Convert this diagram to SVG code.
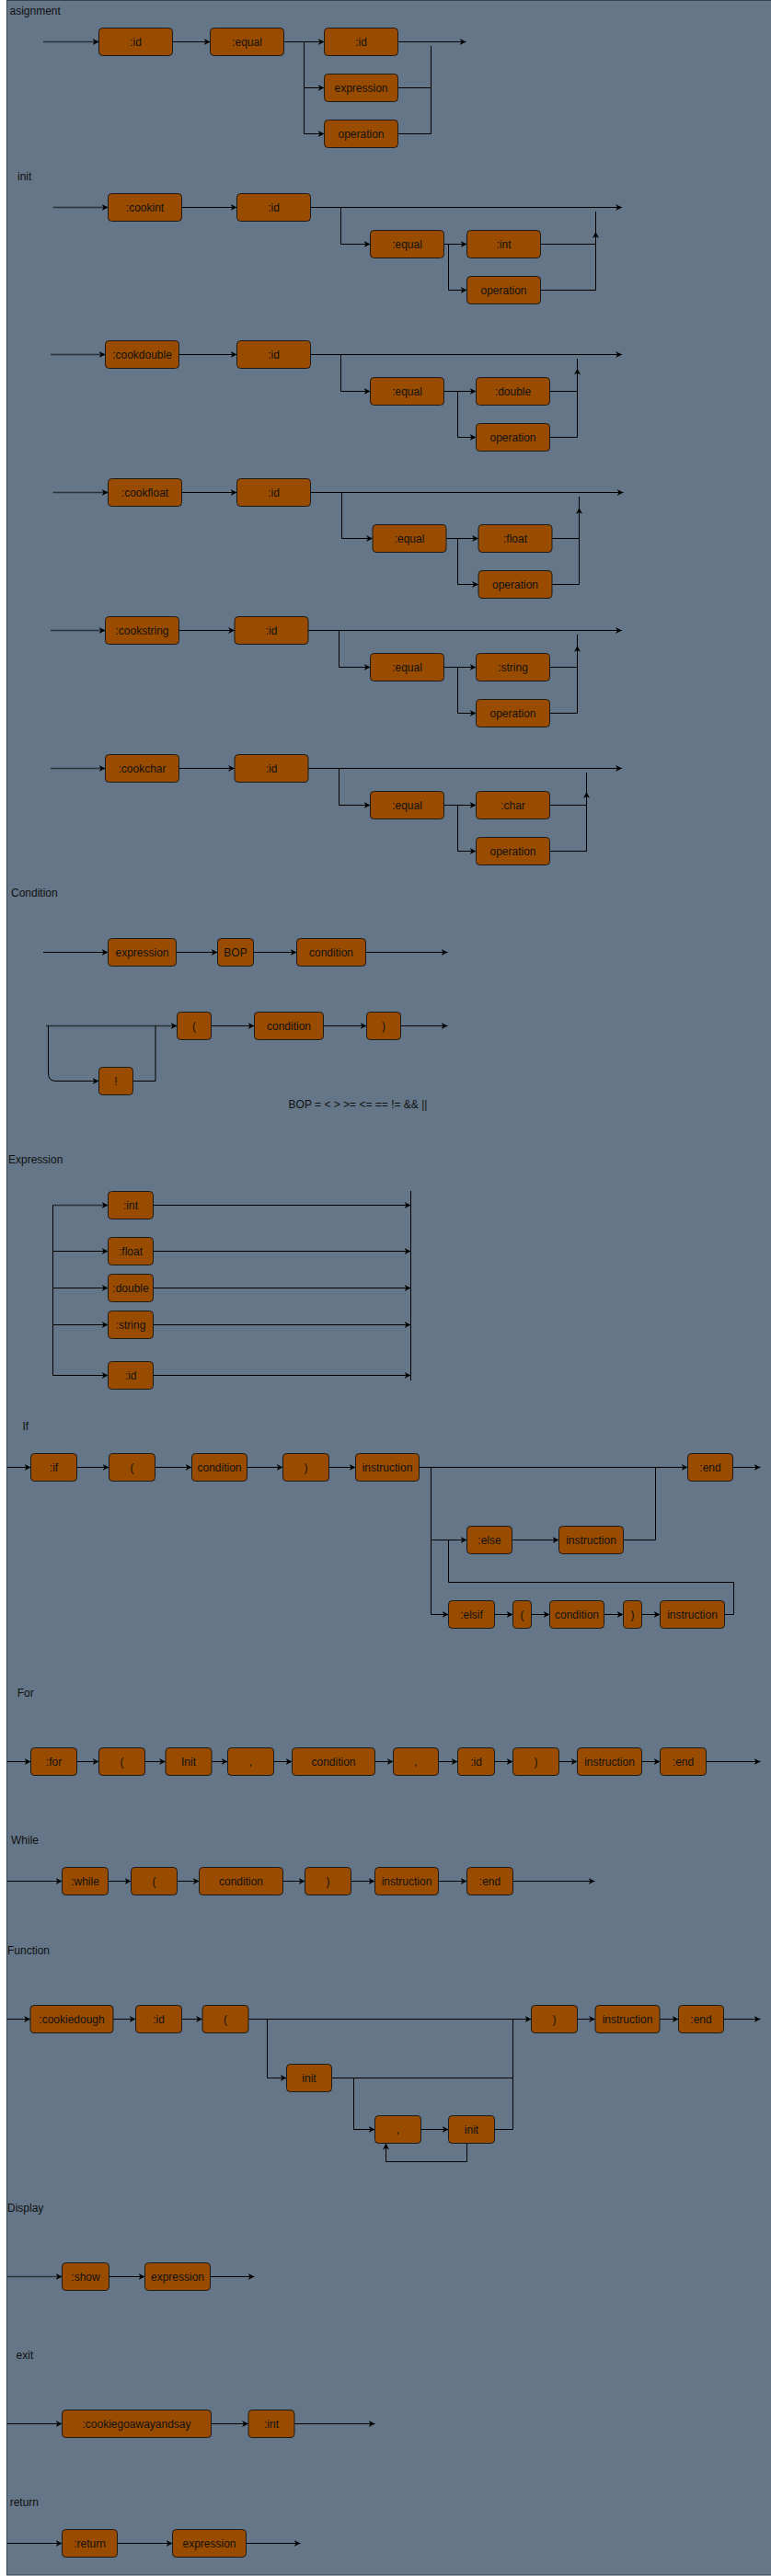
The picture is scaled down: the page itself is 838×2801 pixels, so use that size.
<svg xmlns="http://www.w3.org/2000/svg" width="838" height="2801" viewBox="0 0 838 2801">
<style>
.n rect{fill:#994C00;stroke:#1a1a1a;stroke-width:1}
.n text,.lb{font-family:"Liberation Sans",Arial,sans-serif;font-size:12px;fill:#111;dominant-baseline:central}
.n text{text-anchor:middle}
#connectors path{fill:none;stroke:#000;stroke-width:1}
#connectors path.a{marker-end:url(#arr)}
#connectors path.e{stroke:#2b323b;stroke-width:1.6}
</style>
<defs>
<marker id="arr" viewBox="0 0 10 10" refX="10" refY="5" markerWidth="7" markerHeight="7" orient="auto" markerUnits="userSpaceOnUse"><path d="M0,0 L10,5 L0,10 L3,5 z" fill="#000"/></marker>
</defs>
<rect x="7.5" y="0.5" width="840" height="2799.5" fill="#647687" stroke="#314354"/>
<g id="labels">
<text class="lb" x="10.5" y="12">asignment</text>
<text class="lb" x="19" y="192">init</text>
<text class="lb" x="12" y="971">Condition</text>
<text class="lb" x="389" y="1201" text-anchor="middle">BOP = &lt; &gt; &gt;= &lt;= == != &amp;&amp; ||</text>
<text class="lb" x="9" y="1261">Expression</text>
<text class="lb" x="24.5" y="1551">If</text>
<text class="lb" x="18.7" y="1841">For</text>
<text class="lb" x="12" y="2001">While</text>
<text class="lb" x="8" y="2121">Function</text>
<text class="lb" x="8" y="2401">Display</text>
<text class="lb" x="17.6" y="2561">exit</text>
<text class="lb" x="10.7" y="2721">return</text>
</g>
<g id="connectors">
<!-- asignment -->
<path class="a e" d="M47,45.5 H107.5"/>
<path class="a" d="M187.5,45.5 H228.5"/>
<path class="a" d="M308.5,45.5 H352.5"/>
<path class="a" d="M330.5,45.5 V95.5 H352.5"/>
<path class="a" d="M330.5,95.5 V145.5 H352.5"/>
<path class="a" d="M432.5,45.5 H506.5"/>
<path d="M468.5,50 V145.5 M432.5,95.5 H468.5 M432.5,145.5 H468.5"/>
<!-- cookint -->
<path class="a e" d="M57.5,225.5 H117.5"/>
<path class="a" d="M197.5,225.5 H257.5"/>
<path class="a" d="M337.5,225.5 H676"/>
<path class="a" d="M370.5,225.5 V265.5 H402.5"/>
<path class="a" d="M482.5,265.5 H507.5"/>
<path class="a" d="M487.5,265.5 V315.5 H507.5"/>
<path d="M587.5,265.5 H647.5"/>
<path class="a" d="M587.5,315.5 H647.5 V252"/>
<path d="M647.5,252 V230"/>
<!-- cookdouble -->
<path class="a e" d="M55,385.5 H114.5"/>
<path class="a" d="M194.5,385.5 H257.5"/>
<path class="a" d="M337.5,385.5 H676"/>
<path class="a" d="M370.5,385.5 V425.5 H402.5"/>
<path class="a" d="M482.5,425.5 H517.5"/>
<path class="a" d="M497.5,425.5 V475.5 H517.5"/>
<path d="M597.5,425.5 H627.5"/>
<path class="a" d="M597.5,475.5 H627.5 V400.5"/>
<path d="M627.5,400.5 V390"/>
<!-- cookfloat -->
<path class="a e" d="M57.5,535.5 H117.5"/>
<path class="a" d="M197.5,535.5 H257.5"/>
<path class="a" d="M337.5,535.5 H677.5"/>
<path class="a" d="M371.5,535.5 V585.5 H405"/>
<path class="a" d="M485,585.5 H520"/>
<path class="a" d="M497.5,585.5 V635.5 H520"/>
<path d="M600,585.5 H629.5"/>
<path class="a" d="M600,635.5 H629.5 V552"/>
<path d="M629.5,552 V540"/>
<!-- cookstring -->
<path class="a e" d="M55,685.5 H114.5"/>
<path class="a" d="M194.5,685.5 H255"/>
<path class="a" d="M335,685.5 H676"/>
<path class="a" d="M368.5,685.5 V725.5 H402.5"/>
<path class="a" d="M482.5,725.5 H517.5"/>
<path class="a" d="M497.5,725.5 V775.5 H517.5"/>
<path d="M597.5,725.5 H627.5"/>
<path class="a" d="M597.5,775.5 H627.5 V702"/>
<path d="M627.5,702 V690"/>
<!-- cookchar -->
<path class="a e" d="M55,835.5 H114.5"/>
<path class="a" d="M194.5,835.5 H255"/>
<path class="a" d="M335,835.5 H676"/>
<path class="a" d="M368.5,835.5 V875.5 H402.5"/>
<path class="a" d="M482.5,875.5 H517.5"/>
<path class="a" d="M497.5,875.5 V925.5 H517.5"/>
<path d="M597.5,875.5 H637.5"/>
<path class="a" d="M597.5,925.5 H637.5 V861"/>
<path d="M637.5,861 V840"/>
<!-- condition -->
<path class="a" d="M47,1035.5 H117.5"/>
<path class="a" d="M191.5,1035.5 H236.5"/>
<path class="a" d="M275.5,1035.5 H322.5"/>
<path class="a" d="M397.5,1035.5 H486.5"/>
<path class="a e" d="M50,1115.5 H192.5"/>
<path class="a" d="M229.5,1115.5 H276.5"/>
<path class="a" d="M351.5,1115.5 H398.5"/>
<path class="a" d="M435.5,1115.5 H486.5"/>
<path class="a" d="M52.5,1115.5 V1167 Q52.5,1175.5 61,1175.5 H107.5"/>
<path d="M144.5,1175.5 H169 V1115.5"/>
<!-- expression -->
<path class="a e" d="M57.5,1310.5 H117.5"/>
<path d="M57.5,1310.5 V1495.5"/>
<path class="a" d="M57.5,1360.5 H117.5"/>
<path class="a" d="M57.5,1400.5 H117.5"/>
<path class="a" d="M57.5,1440.5 H117.5"/>
<path class="a" d="M57.5,1495.5 H117.5"/>
<path class="a" d="M166.5,1310.5 H446.5"/>
<path class="a" d="M166.5,1360.5 H446.5"/>
<path class="a" d="M166.5,1400.5 H446.5"/>
<path class="a" d="M166.5,1440.5 H446.5"/>
<path class="a" d="M166.5,1495.5 H446.5"/>
<path d="M446.5,1295 V1501"/>
<!-- if -->
<path class="a" d="M7.5,1595.5 H33.5"/>
<path class="a" d="M83.5,1595.5 H118.5"/>
<path class="a" d="M168.5,1595.5 H208.5"/>
<path class="a" d="M268.5,1595.5 H307.5"/>
<path class="a" d="M357.5,1595.5 H386.5"/>
<path class="a" d="M455.5,1595.5 H747.5"/>
<path class="a" d="M796.5,1595.5 H826.5"/>
<path class="a" d="M468.5,1595.5 V1755.5 H487.5"/>
<path class="a" d="M468.5,1674.5 H507.5"/>
<path class="a" d="M556.5,1674.5 H607.5"/>
<path d="M677.5,1674.5 H712.5 V1595.5"/>
<path class="a" d="M537.5,1755.5 H557.5"/>
<path class="a" d="M577.5,1755.5 H597.5"/>
<path class="a" d="M656.5,1755.5 H677.5"/>
<path class="a" d="M697.5,1755.5 H717.5"/>
<path d="M787.5,1755.5 H797.5 V1720.5 H487.5 V1674.5"/>
<!-- for -->
<path class="a" d="M7.5,1915.5 H33.5"/>
<path class="a" d="M83.5,1915.5 H107.5"/>
<path class="a" d="M157.5,1915.5 H180"/>
<path class="a" d="M230,1915.5 H247.5"/>
<path class="a" d="M297.5,1915.5 H317.5"/>
<path class="a" d="M407.5,1915.5 H427.5"/>
<path class="a" d="M476.5,1915.5 H497.5"/>
<path class="a" d="M537.5,1915.5 H557.5"/>
<path class="a" d="M607.5,1915.5 H627.5"/>
<path class="a" d="M697.5,1915.5 H717.5"/>
<path class="a" d="M767.5,1915.5 H826.5"/>
<!-- while -->
<path class="a" d="M7.5,2045.5 H67.5"/>
<path class="a" d="M117.5,2045.5 H142.5"/>
<path class="a" d="M192.5,2045.5 H216.5"/>
<path class="a" d="M307.5,2045.5 H331.5"/>
<path class="a" d="M381.5,2045.5 H407.5"/>
<path class="a" d="M476.5,2045.5 H507.5"/>
<path class="a" d="M557.5,2045.5 H646.5"/>
<!-- function -->
<path class="a" d="M7.5,2195.5 H33"/>
<path class="a" d="M123,2195.5 H147.5"/>
<path class="a" d="M197.5,2195.5 H220"/>
<path class="a" d="M270,2195.5 H577.5"/>
<path class="a" d="M627.5,2195.5 H647"/>
<path class="a" d="M717,2195.5 H737.5"/>
<path class="a" d="M786.5,2195.5 H826.5"/>
<path class="a" d="M290.5,2195.5 V2259.5 H311.5"/>
<path d="M360.5,2259.5 H557.5"/>
<path d="M537.5,2315.5 H557.5 V2195.5"/>
<path class="a" d="M384.5,2259.5 V2315.5 H407.5"/>
<path class="a" d="M457.5,2315.5 H487.5"/>
<path class="a" d="M507.5,2330.5 V2350.5 H419.5 V2330.5"/>
<!-- display -->
<path class="a e" d="M7.5,2475.5 H67.5"/>
<path class="a" d="M118.5,2475.5 H157.5"/>
<path class="a" d="M228.5,2475.5 H276.5"/>
<!-- exit -->
<path class="a" d="M7.5,2635.5 H67.5"/>
<path class="a" d="M229.5,2635.5 H270"/>
<path class="a" d="M320,2635.5 H407.5"/>
<!-- return -->
<path class="a" d="M7.5,2765.5 H67.5"/>
<path class="a" d="M127.5,2765.5 H187.5"/>
<path class="a" d="M267.5,2765.5 H326.5"/>
</g>
<!-- asignment -->
<g id="as_id1" class="n"><rect x="107.5" y="30.5" width="80" height="30" rx="4"/><text x="147.5" y="45.5">:id</text></g>
<g id="as_equal" class="n"><rect x="228.5" y="30.5" width="80" height="30" rx="4"/><text x="268.5" y="45.5">:equal</text></g>
<g id="as_id2" class="n"><rect x="352.5" y="30.5" width="80" height="30" rx="4"/><text x="392.5" y="45.5">:id</text></g>
<g id="as_expr" class="n"><rect x="352.5" y="80.5" width="80" height="30" rx="4"/><text x="392.5" y="95.5">expression</text></g>
<g id="as_op" class="n"><rect x="352.5" y="130.5" width="80" height="30" rx="4"/><text x="392.5" y="145.5">operation</text></g>
<!-- cookint -->
<g id="ci_cook" class="n"><rect x="117.5" y="210.5" width="80" height="30" rx="4"/><text x="157.5" y="225.5">:cookint</text></g>
<g id="ci_id" class="n"><rect x="257.5" y="210.5" width="80" height="30" rx="4"/><text x="297.5" y="225.5">:id</text></g>
<g id="ci_eq" class="n"><rect x="402.5" y="250.5" width="80" height="30" rx="4"/><text x="442.5" y="265.5">:equal</text></g>
<g id="ci_int" class="n"><rect x="507.5" y="250.5" width="80" height="30" rx="4"/><text x="547.5" y="265.5">:int</text></g>
<g id="ci_op" class="n"><rect x="507.5" y="300.5" width="80" height="30" rx="4"/><text x="547.5" y="315.5">operation</text></g>
<!-- cookdouble -->
<g id="cd_cook" class="n"><rect x="114.5" y="370.5" width="80" height="30" rx="4"/><text x="154.5" y="385.5">:cookdouble</text></g>
<g id="cd_id" class="n"><rect x="257.5" y="370.5" width="80" height="30" rx="4"/><text x="297.5" y="385.5">:id</text></g>
<g id="cd_eq" class="n"><rect x="402.5" y="410.5" width="80" height="30" rx="4"/><text x="442.5" y="425.5">:equal</text></g>
<g id="cd_dbl" class="n"><rect x="517.5" y="410.5" width="80" height="30" rx="4"/><text x="557.5" y="425.5">:double</text></g>
<g id="cd_op" class="n"><rect x="517.5" y="460.5" width="80" height="30" rx="4"/><text x="557.5" y="475.5">operation</text></g>
<!-- cookfloat -->
<g id="cf_cook" class="n"><rect x="117.5" y="520.5" width="80" height="30" rx="4"/><text x="157.5" y="535.5">:cookfloat</text></g>
<g id="cf_id" class="n"><rect x="257.5" y="520.5" width="80" height="30" rx="4"/><text x="297.5" y="535.5">:id</text></g>
<g id="cf_eq" class="n"><rect x="405" y="570.5" width="80" height="30" rx="4"/><text x="445" y="585.5">:equal</text></g>
<g id="cf_flt" class="n"><rect x="520" y="570.5" width="80" height="30" rx="4"/><text x="560" y="585.5">:float</text></g>
<g id="cf_op" class="n"><rect x="520" y="620.5" width="80" height="30" rx="4"/><text x="560" y="635.5">operation</text></g>
<!-- cookstring -->
<g id="cs_cook" class="n"><rect x="114.5" y="670.5" width="80" height="30" rx="4"/><text x="154.5" y="685.5">:cookstring</text></g>
<g id="cs_id" class="n"><rect x="255" y="670.5" width="80" height="30" rx="4"/><text x="295" y="685.5">:id</text></g>
<g id="cs_eq" class="n"><rect x="402.5" y="710.5" width="80" height="30" rx="4"/><text x="442.5" y="725.5">:equal</text></g>
<g id="cs_str" class="n"><rect x="517.5" y="710.5" width="80" height="30" rx="4"/><text x="557.5" y="725.5">:string</text></g>
<g id="cs_op" class="n"><rect x="517.5" y="760.5" width="80" height="30" rx="4"/><text x="557.5" y="775.5">operation</text></g>
<!-- cookchar -->
<g id="cc_cook" class="n"><rect x="114.5" y="820.5" width="80" height="30" rx="4"/><text x="154.5" y="835.5">:cookchar</text></g>
<g id="cc_id" class="n"><rect x="255" y="820.5" width="80" height="30" rx="4"/><text x="295" y="835.5">:id</text></g>
<g id="cc_eq" class="n"><rect x="402.5" y="860.5" width="80" height="30" rx="4"/><text x="442.5" y="875.5">:equal</text></g>
<g id="cc_chr" class="n"><rect x="517.5" y="860.5" width="80" height="30" rx="4"/><text x="557.5" y="875.5">:char</text></g>
<g id="cc_op" class="n"><rect x="517.5" y="910.5" width="80" height="30" rx="4"/><text x="557.5" y="925.5">operation</text></g>
<!-- condition -->
<g id="co_expr" class="n"><rect x="117.5" y="1020.5" width="74" height="30" rx="4"/><text x="154.5" y="1035.5">expression</text></g>
<g id="co_bop" class="n"><rect x="236.5" y="1020.5" width="39" height="30" rx="4"/><text x="256" y="1035.5">BOP</text></g>
<g id="co_cond" class="n"><rect x="322.5" y="1020.5" width="75" height="30" rx="4"/><text x="360" y="1035.5">condition</text></g>
<g id="co_lp" class="n"><rect x="192.5" y="1100.5" width="37" height="30" rx="4"/><text x="211" y="1115.5">(</text></g>
<g id="co_cond2" class="n"><rect x="276.5" y="1100.5" width="75" height="30" rx="4"/><text x="314" y="1115.5">condition</text></g>
<g id="co_rp" class="n"><rect x="398.5" y="1100.5" width="37" height="30" rx="4"/><text x="417" y="1115.5">)</text></g>
<g id="co_not" class="n"><rect x="107.5" y="1160.5" width="37" height="30" rx="4"/><text x="126" y="1175.5">!</text></g>
<!-- expression -->
<g id="ex_int" class="n"><rect x="117.5" y="1295.5" width="49" height="30" rx="4"/><text x="142" y="1310.5">:int</text></g>
<g id="ex_flt" class="n"><rect x="117.5" y="1345.5" width="49" height="30" rx="4"/><text x="142" y="1360.5">:float</text></g>
<g id="ex_dbl" class="n"><rect x="117.5" y="1385.5" width="49" height="30" rx="4"/><text x="142" y="1400.5">:double</text></g>
<g id="ex_str" class="n"><rect x="117.5" y="1425.5" width="49" height="30" rx="4"/><text x="142" y="1440.5">:string</text></g>
<g id="ex_id" class="n"><rect x="117.5" y="1480.5" width="49" height="30" rx="4"/><text x="142" y="1495.5">:id</text></g>
<!-- if -->
<g id="if_if" class="n"><rect x="33.5" y="1580.5" width="50" height="30" rx="4"/><text x="58.5" y="1595.5">:if</text></g>
<g id="if_lp" class="n"><rect x="118.5" y="1580.5" width="50" height="30" rx="4"/><text x="143.5" y="1595.5">(</text></g>
<g id="if_cond" class="n"><rect x="208.5" y="1580.5" width="60" height="30" rx="4"/><text x="238.5" y="1595.5">condition</text></g>
<g id="if_rp" class="n"><rect x="307.5" y="1580.5" width="50" height="30" rx="4"/><text x="332.5" y="1595.5">)</text></g>
<g id="if_ins" class="n"><rect x="386.5" y="1580.5" width="69" height="30" rx="4"/><text x="421" y="1595.5">instruction</text></g>
<g id="if_end" class="n"><rect x="747.5" y="1580.5" width="49" height="30" rx="4"/><text x="772" y="1595.5">:end</text></g>
<g id="if_else" class="n"><rect x="507.5" y="1659.5" width="49" height="30" rx="4"/><text x="532" y="1674.5">:else</text></g>
<g id="if_ins2" class="n"><rect x="607.5" y="1659.5" width="70" height="30" rx="4"/><text x="642.5" y="1674.5">instruction</text></g>
<g id="if_elsif" class="n"><rect x="487.5" y="1740.5" width="50" height="30" rx="4"/><text x="512.5" y="1755.5">:elsif</text></g>
<g id="if_lp2" class="n"><rect x="557.5" y="1740.5" width="20" height="30" rx="4"/><text x="567.5" y="1755.5">(</text></g>
<g id="if_cond2" class="n"><rect x="597.5" y="1740.5" width="59" height="30" rx="4"/><text x="627" y="1755.5">condition</text></g>
<g id="if_rp2" class="n"><rect x="677.5" y="1740.5" width="20" height="30" rx="4"/><text x="687.5" y="1755.5">)</text></g>
<g id="if_ins3" class="n"><rect x="717.5" y="1740.5" width="70" height="30" rx="4"/><text x="752.5" y="1755.5">instruction</text></g>
<!-- for -->
<g id="fo_for" class="n"><rect x="33.5" y="1900.5" width="50" height="30" rx="4"/><text x="58.5" y="1915.5">:for</text></g>
<g id="fo_lp" class="n"><rect x="107.5" y="1900.5" width="50" height="30" rx="4"/><text x="132.5" y="1915.5">(</text></g>
<g id="fo_init" class="n"><rect x="180" y="1900.5" width="50" height="30" rx="4"/><text x="205" y="1915.5">Init</text></g>
<g id="fo_c1" class="n"><rect x="247.5" y="1900.5" width="50" height="30" rx="4"/><text x="272.5" y="1915.5">,</text></g>
<g id="fo_cond" class="n"><rect x="317.5" y="1900.5" width="90" height="30" rx="4"/><text x="362.5" y="1915.5">condition</text></g>
<g id="fo_c2" class="n"><rect x="427.5" y="1900.5" width="49" height="30" rx="4"/><text x="452" y="1915.5">,</text></g>
<g id="fo_id" class="n"><rect x="497.5" y="1900.5" width="40" height="30" rx="4"/><text x="517.5" y="1915.5">:id</text></g>
<g id="fo_rp" class="n"><rect x="557.5" y="1900.5" width="50" height="30" rx="4"/><text x="582.5" y="1915.5">)</text></g>
<g id="fo_ins" class="n"><rect x="627.5" y="1900.5" width="70" height="30" rx="4"/><text x="662.5" y="1915.5">instruction</text></g>
<g id="fo_end" class="n"><rect x="717.5" y="1900.5" width="50" height="30" rx="4"/><text x="742.5" y="1915.5">:end</text></g>
<!-- while -->
<g id="wh_while" class="n"><rect x="67.5" y="2030.5" width="50" height="30" rx="4"/><text x="92.5" y="2045.5">:while</text></g>
<g id="wh_lp" class="n"><rect x="142.5" y="2030.5" width="50" height="30" rx="4"/><text x="167.5" y="2045.5">(</text></g>
<g id="wh_cond" class="n"><rect x="216.5" y="2030.5" width="91" height="30" rx="4"/><text x="262" y="2045.5">condition</text></g>
<g id="wh_rp" class="n"><rect x="331.5" y="2030.5" width="50" height="30" rx="4"/><text x="356.5" y="2045.5">)</text></g>
<g id="wh_ins" class="n"><rect x="407.5" y="2030.5" width="69" height="30" rx="4"/><text x="442" y="2045.5">instruction</text></g>
<g id="wh_end" class="n"><rect x="507.5" y="2030.5" width="50" height="30" rx="4"/><text x="532.5" y="2045.5">:end</text></g>
<!-- function -->
<g id="fn_cd" class="n"><rect x="33" y="2180.5" width="90" height="30" rx="4"/><text x="78" y="2195.5">:cookiedough</text></g>
<g id="fn_id" class="n"><rect x="147.5" y="2180.5" width="50" height="30" rx="4"/><text x="172.5" y="2195.5">:id</text></g>
<g id="fn_lp" class="n"><rect x="220" y="2180.5" width="50" height="30" rx="4"/><text x="245" y="2195.5">(</text></g>
<g id="fn_rp" class="n"><rect x="577.5" y="2180.5" width="50" height="30" rx="4"/><text x="602.5" y="2195.5">)</text></g>
<g id="fn_ins" class="n"><rect x="647" y="2180.5" width="70" height="30" rx="4"/><text x="682" y="2195.5">instruction</text></g>
<g id="fn_end" class="n"><rect x="737.5" y="2180.5" width="49" height="30" rx="4"/><text x="762" y="2195.5">:end</text></g>
<g id="fn_init1" class="n"><rect x="311.5" y="2244.5" width="49" height="30" rx="4"/><text x="336" y="2259.5">init</text></g>
<g id="fn_comma" class="n"><rect x="407.5" y="2300.5" width="50" height="30" rx="4"/><text x="432.5" y="2315.5">,</text></g>
<g id="fn_init2" class="n"><rect x="487.5" y="2300.5" width="50" height="30" rx="4"/><text x="512.5" y="2315.5">init</text></g>
<!-- display -->
<g id="di_show" class="n"><rect x="67.5" y="2460.5" width="51" height="30" rx="4"/><text x="93" y="2475.5">:show</text></g>
<g id="di_expr" class="n"><rect x="157.5" y="2460.5" width="71" height="30" rx="4"/><text x="193" y="2475.5">expression</text></g>
<!-- exit -->
<g id="xt_cook" class="n"><rect x="67.5" y="2620.5" width="162" height="30" rx="4"/><text x="148.5" y="2635.5">:cookiegoawayandsay</text></g>
<g id="xt_int" class="n"><rect x="270" y="2620.5" width="50" height="30" rx="4"/><text x="295" y="2635.5">:int</text></g>
<!-- return -->
<g id="rt_ret" class="n"><rect x="67.5" y="2750.5" width="60" height="30" rx="4"/><text x="97.5" y="2765.5">:return</text></g>
<g id="rt_expr" class="n"><rect x="187.5" y="2750.5" width="80" height="30" rx="4"/><text x="227.5" y="2765.5">expression</text></g>
</svg>
